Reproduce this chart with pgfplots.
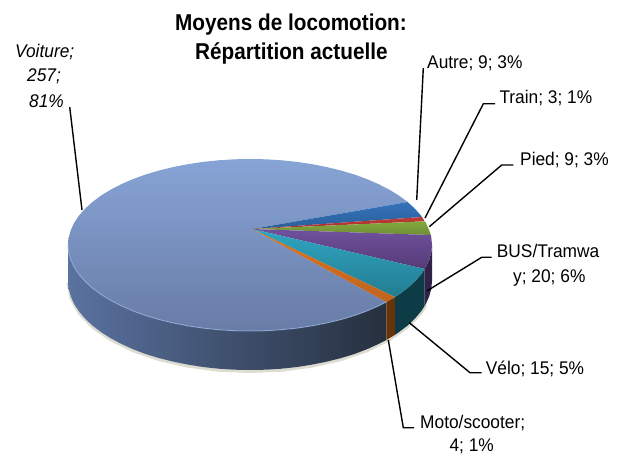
\documentclass[border=0pt]{standalone}
\usepackage{pgfplots}
\pgfplotsset{compat=1.18}
\usepackage{graphicx}
\usepackage{fontspec}
\setmainfont{Liberation Sans}
\definecolor{voitT}{RGB}{135,164,214}
\definecolor{voitB}{RGB}{104,124,166}
\definecolor{wallL}{RGB}{90,114,160}
\definecolor{wallM}{RGB}{62,75,105}
\definecolor{wallR}{RGB}{38,48,62}
\definecolor{rim}{RGB}{150,178,225}
\definecolor{autT}{RGB}{52,114,186}
\definecolor{autB}{RGB}{42,96,156}
\definecolor{traT}{RGB}{190,60,55}
\definecolor{traB}{RGB}{165,48,48}
\definecolor{pieT}{RGB}{130,168,62}
\definecolor{pieB}{RGB}{112,142,52}
\definecolor{busT}{RGB}{112,80,158}
\definecolor{busB}{RGB}{84,60,118}
\definecolor{velT}{RGB}{48,165,192}
\definecolor{velB}{RGB}{34,125,146}
\definecolor{motT}{RGB}{222,116,30}
\definecolor{motB}{RGB}{190,100,32}
\definecolor{busW}{RGB}{48,34,72}
\definecolor{velW}{RGB}{14,60,70}
\definecolor{motW}{RGB}{102,52,8}
\newcommand{\ttl}[1]{\scalebox{0.905}[1]{\fontsize{23}{27}\selectfont\bfseries #1}}
\newcommand{\lbl}[1]{\scalebox{0.945}[1]{\fontsize{18.4}{22}\selectfont #1}}
\newcommand{\lbi}[1]{\scalebox{0.945}[1]{\fontsize{18.4}{22}\selectfont\itshape #1}}
\begin{document}
\begin{tikzpicture}
\begin{axis}[
  width=619bp, height=455bp, scale only axis,
  xmin=0, xmax=619, ymin=0, ymax=455, y dir=reverse,
  hide axis, clip=false]
\path (rel axis cs:0,0) rectangle (rel axis cs:1,1);
% soft shadow below the wall
\addplot[draw=gray!60!yellow!70!black, opacity=0.3, line width=3pt] coordinates {
(425.8,305.6)(421,312.9)(407.6,327)(389.4,339.7)(367,350.7)(341,359.6)(312.2,366.1)(281.6,370.2)(250,371.5)(218.4,370.2)(187.8,366.1)(159,359.6)(133,350.7)(110.6,339.7)(92.4,327)(79,312.9)(70.8,297.9)(68,282.5)};
% walls
\addplot[draw=none, left color=wallL, middle color=wallM, right color=wallR] coordinates {
(386.3,302)(378.7,305.8)(367,310.9)(354.4,315.5)(341,319.5)(326.9,322.9)(312.2,325.8)(297.1,328.1)(281.6,329.7)(265.9,330.7)(250,331)(234.1,330.7)(218.4,329.7)(202.9,328.1)(187.8,325.8)(173.1,322.9)(159,319.5)(145.6,315.5)(133,310.9)(121.3,305.8)(110.6,300.3)(100.9,294.3)(92.4,288)(85.1,281.3)(79,274.4)(74.2,267.3)(70.8,259.9)(68.7,252.5)(68,245)
(68,281)(68.7,288.8)(70.8,296.4)(74.2,304.1)(79,311.4)(85.1,318.6)(92.4,325.5)(100.9,332)(110.6,338.2)(121.3,343.9)(133,349.2)(145.6,354)(159,358.1)(173.1,361.6)(187.8,364.6)(202.9,367)(218.4,368.7)(234.1,369.7)(250,370)(265.9,369.7)(281.6,368.7)(297.1,367)(312.2,364.6)(326.9,361.6)(341,358.1)(354.4,354)(367,349.2)(378.7,343.9)(386.3,340)};
\addplot[draw=none, fill=motW] coordinates {
(395,297)(389.4,300.3)(386.3,302)(386.3,340)(389.4,338.2)(395,334.8)};
\addplot[draw=none, fill=velW] coordinates {
(424.7,269)(421,274.4)(414.9,281.3)(407.6,288)(399.1,294.3)(395,297)(395,334.8)(399.1,332)(407.6,325.5)(414.9,318.6)(421,311.4)(424.7,305.8)};
\addplot[draw=none, fill=busW] coordinates {
(432,245)(431.3,252.5)(429.2,259.9)(425.8,267.3)(424.7,269)(424.7,305.8)(425.8,304.1)(429.2,296.4)(431.3,288.8)(432,281)};
% top faces
\addplot[draw=none, top color=voitT, bottom color=voitB] coordinates {
(252,229)(386.3,302)(378.7,305.8)(367,310.9)(354.4,315.5)(341,319.5)(326.9,322.9)(312.2,325.8)(297.1,328.1)(281.6,329.7)(265.9,330.7)(250,331)(234.1,330.7)(218.4,329.7)(202.9,328.1)(187.8,325.8)(173.1,322.9)(159,319.5)(145.6,315.5)(133,310.9)(121.3,305.8)(110.6,300.3)(100.9,294.3)(92.4,288)(85.1,281.3)(79,274.4)(74.2,267.3)(70.8,259.9)(68.7,252.5)(68,245)(68.7,237.5)(70.8,230.1)(74.2,222.7)(79,215.6)(85.1,208.7)(92.4,202)(100.9,195.7)(110.6,189.7)(121.3,184.2)(133,179.1)(145.6,174.5)(159,170.5)(173.1,167.1)(187.8,164.2)(202.9,161.9)(218.4,160.3)(234.1,159.3)(250,159)(265.9,159.3)(281.6,160.3)(297.1,161.9)(312.2,164.2)(326.9,167.1)(341,170.5)(354.4,174.5)(367,179.1)(378.7,184.2)(389.4,189.7)(399.1,195.7)(407.6,202)};
\addplot[draw=none, top color=autT, bottom color=autB] coordinates {
(252,229)(407.6,202)(414.9,208.7)(421,215.6)(421.9,217)};
\addplot[draw=none, top color=traT, bottom color=traB] coordinates {
(252,229)(421.9,217)(424.9,221.3)};
\addplot[draw=none, top color=pieT, bottom color=pieB] coordinates {
(252,229)(424.9,221.3)(425.8,222.7)(429.2,230.1)(430.8,235)};
\addplot[draw=none, top color=busT, bottom color=busB] coordinates {
(252,229)(430.8,235)(431.3,237.5)(432,245)(431.3,252.5)(429.2,259.9)(425.8,267.3)(424.7,269)};
\addplot[draw=none, top color=velT, bottom color=velB] coordinates {
(252,229)(424.7,269)(421,274.4)(414.9,281.3)(407.6,288)(399.1,294.3)(395,297)};
\addplot[draw=none, top color=motT, bottom color=motB] coordinates {
(252,229)(395,297)(389.4,300.3)(386.3,302)};
% rim highlight
\addplot[draw=rim, line width=1pt, opacity=0.7] coordinates {
(386.3,302)(378.7,305.8)(367,310.9)(354.4,315.5)(341,319.5)(326.9,322.9)(312.2,325.8)(297.1,328.1)(281.6,329.7)(265.9,330.7)(250,331)(234.1,330.7)(218.4,329.7)(202.9,328.1)(187.8,325.8)(173.1,322.9)(159,319.5)(145.6,315.5)(133,310.9)(121.3,305.8)(110.6,300.3)(100.9,294.3)(92.4,288)(85.1,281.3)(79,274.4)(74.2,267.3)(70.8,259.9)(68.7,252.5)(68,245)};
% leader lines
\addplot[black, line width=1.4pt] coordinates {(69.7,107)(82,210)};
\addplot[black, line width=1.4pt] coordinates {(423.3,68)(416.7,200)};
\addplot[black, line width=1.4pt] coordinates {(495,103.8)(483.3,103.8)(425,218)};
\addplot[black, line width=1.4pt] coordinates {(513.3,165)(501.7,165)(429.3,226.7)};
\addplot[black, line width=1.4pt] coordinates {(491.7,257.3)(481.7,257.3)(427.3,290.7)};
\addplot[black, line width=1.4pt] coordinates {(481.7,372.7)(470,372.7)(409.3,322.7)};
\addplot[black, line width=1.4pt] coordinates {(414,427.7)(403.3,427.7)(388.3,340)};
% title
\tikzset{lab/.style={anchor=base west, inner sep=0pt}}
\node[lab] at (axis cs:175,31) {\ttl{Moyens de locomotion:}};
\node[lab] at (axis cs:195,60) {\ttl{Répartition actuelle}};
% labels
\node[lab] at (axis cs:15,58) {\lbi{Voiture;}};
\node[lab] at (axis cs:27,82) {\lbi{257;}};
\node[lab] at (axis cs:29,107) {\lbi{81\%}};
\node[lab] at (axis cs:427,68.3) {\lbl{Autre; 9; 3\%}};
\node[lab] at (axis cs:499.3,103.3) {\lbl{Train; 3; 1\%}};
\node[lab] at (axis cs:520,165) {\lbl{Pied; 9; 3\%}};
\node[lab] at (axis cs:496.7,257.3) {\lbl{BUS/Tramwa}};
\node[lab] at (axis cs:513,282) {\lbl{y; 20; 6\%}};
\node[lab] at (axis cs:485.7,374) {\lbl{Vélo; 15; 5\%}};
\node[lab] at (axis cs:420,428.3) {\lbl{Moto/scooter;}};
\node[lab] at (axis cs:449.3,451.7) {\lbl{4; 1\%}};
\end{axis}
\end{tikzpicture}
\end{document}
